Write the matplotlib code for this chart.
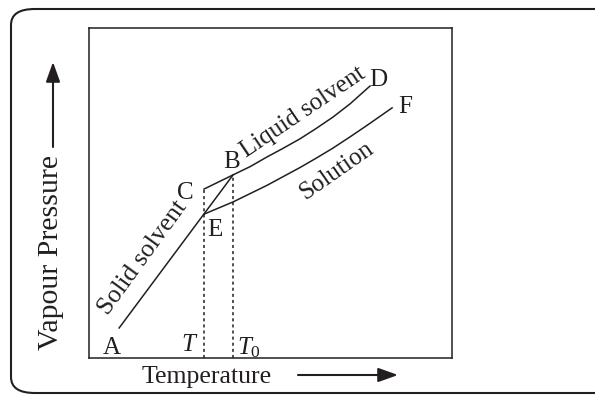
import matplotlib
matplotlib.use("Agg")
import matplotlib.pyplot as plt
from matplotlib.patches import FancyBboxPatch

plt.rcParams['font.family'] = ['Liberation Serif', 'DejaVu Serif']
plt.rcParams['mathtext.fontset'] = 'custom'
plt.rcParams['mathtext.rm'] = 'Liberation Serif'
plt.rcParams['mathtext.it'] = 'Liberation Serif:italic'
plt.rcParams['mathtext.default'] = 'it'

INK = '#231f20'

# solid solvent line A -> B (passes through E)
solid_x = [8.3, 39.7]
solid_y = [9.1, 55.5]

# liquid solvent curve C -> B -> D
liquid_x = [31.7, 39.7, 44.4, 49.0, 53.4, 58.1, 62.5, 67.2, 71.9, 77.4]
liquid_y = [51.2, 55.5, 58.0, 60.9, 63.5, 66.4, 69.5, 73.0, 77.0, 82.4]

# solution curve E -> F
solution_x = [31.7, 39.7, 49.0, 58.1, 62.5, 67.2, 71.9, 76.6, 83.5]
solution_y = [43.6, 47.3, 52.3, 57.7, 60.5, 63.6, 67.0, 70.5, 75.8]

# freezing points: T (solution) and T0 (pure solvent)
t_x = 31.7
t_top = 51.2
t0_x = 39.7
t0_top = 55.5

point_names = ['A', 'C', 'B', 'E', 'D', 'F']
point_x = [6.3, 26.4, 39.4, 34.7, 79.6, 87.1]
point_y = [3.0, 50.0, 59.4, 38.8, 84.2, 76.1]

fig = plt.figure(figsize=(5.95, 3.97), dpi=100)

# rounded outer frame (runs off the right edge)
frame = FancyBboxPatch((11 / 595, 4 / 397), 1.2, 384 / 397,
                       boxstyle="round,pad=0,rounding_size=0.04",
                       transform=fig.transFigure, fill=False,
                       edgecolor=INK, linewidth=1.5, clip_on=False)
fig.patches.append(frame)

ax = fig.add_axes([89 / 595, 39 / 397, 363 / 595, 330 / 397])
ax.set_xlim(0, 100)
ax.set_ylim(0, 100)
ax.set_xticks([])
ax.set_yticks([])
for s in ax.spines.values():
    s.set_linewidth(1.1)
    s.set_color(INK)

ax.plot(solid_x, solid_y, color=INK, lw=1.1)
ax.plot(liquid_x, liquid_y, color=INK, lw=1.1)
ax.plot(solution_x, solution_y, color=INK, lw=1.1)
ax.plot([t_x, t_x], [0, t_top], color=INK, lw=1.1, dashes=(2, 2))
ax.plot([t0_x, t0_x], [0, t0_top], color=INK, lw=1.1, dashes=(2, 2))

for name, x, y in zip(point_names, point_x, point_y):
    ax.text(x, y, name, fontsize=18, color=INK, ha='center', va='center')

ax.text(27.3, 3.8, 'T', fontsize=18, style='italic', color=INK, ha='center', va='center')
ax.text(40.9, 3.0, r'$T_{0}$', fontsize=18, color=INK, ha='left', va='center')

ax.text(59.0, 74.4, 'Liquid solvent', fontsize=18, color=INK, rotation=34,
        ha='center', va='center', rotation_mode='anchor')
ax.text(68.3, 56.6, 'Solution', fontsize=18, color=INK, rotation=35,
        ha='center', va='center', rotation_mode='anchor')
ax.text(14.9, 30.3, 'Solid solvent', fontsize=18.5, color=INK, rotation=54,
        ha='center', va='center', rotation_mode='anchor')

# axis captions with arrows
fig.text(207 / 595, (397 - 383) / 397, 'Temperature', fontsize=18.5, color=INK,
         ha='center', va='baseline')
fig.text(51 / 595, (397 - 253) / 397, 'Vapour Pressure', fontsize=21.5, color=INK,
         rotation=90, ha='center', va='center')

arrow = dict(arrowstyle='-|>,head_length=1.2,head_width=0.43', mutation_scale=10,
             color=INK, lw=1.5, shrinkA=0, shrinkB=0)
ax.annotate('', xy=(398, 397 - 375), xytext=(298, 397 - 375),
            xycoords='figure pixels', textcoords='figure pixels', arrowprops=arrow)
ax.annotate('', xy=(53, 397 - 62), xytext=(53, 397 - 147),
            xycoords='figure pixels', textcoords='figure pixels', arrowprops=arrow)

fig.savefig('out.png', dpi=100)
